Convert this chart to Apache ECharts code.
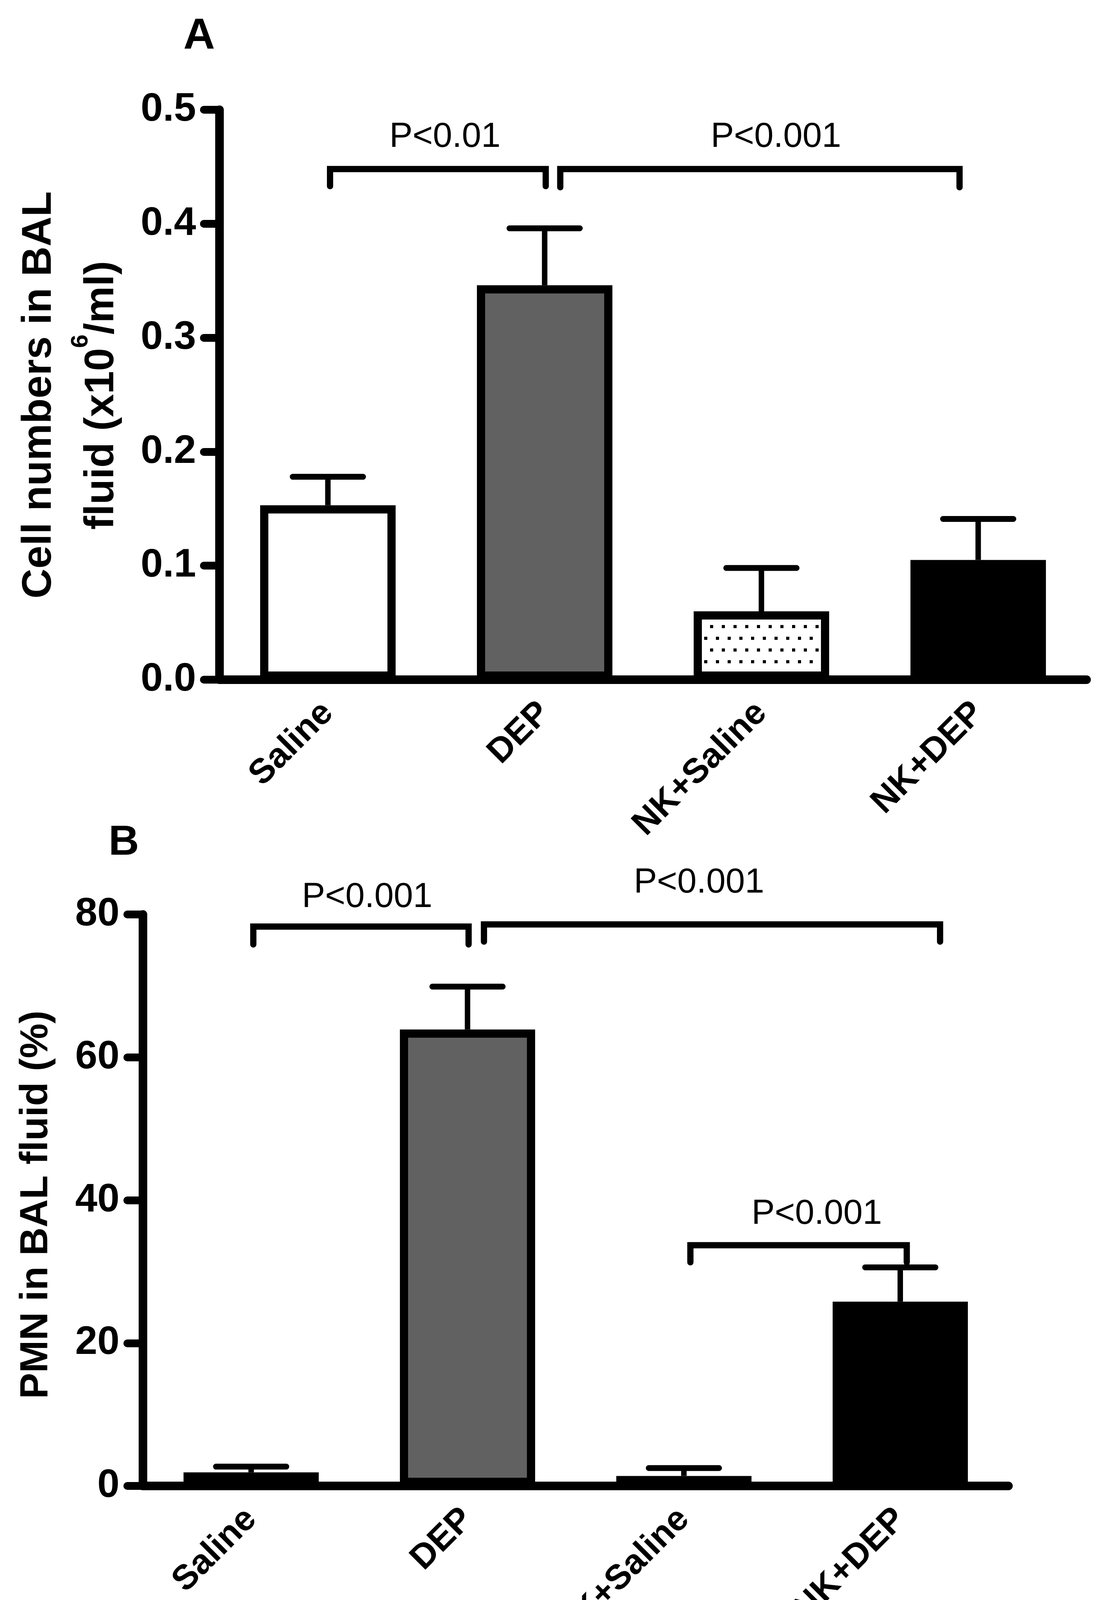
<!DOCTYPE html>
<html><head><meta charset="utf-8">
<script src="https://cdn.jsdelivr.net/npm/echarts@6/dist/echarts.min.js"></script>
<style>html,body{margin:0;padding:0;background:#fff}#c{width:2842px;height:4250px}</style>
</head><body><div id="c"></div>
<script>
// ---------- data ----------
const categories = ['Saline', 'DEP', 'NK+Saline', 'NK+DEP'];
const cellMean = [0.153, 0.346, 0.060, 0.105];
const cellSem  = [0.025, 0.050, 0.038, 0.036];
const pmnMean  = [1.9, 63.9, 1.4, 25.8];
const pmnSem   = [0.8, 6.0, 1.1, 4.8];
const cellAxisRange = [0, 0.5, 0.1];
const pmnAxisRange  = [0, 80, 20];
// brackets: [fromCategory, toCategory, barValue, tipValue]
const cellBrackets = [[0.01, 1.005, 0.448, 0.433], [1.072, 2.914, 0.448, 0.432]];
const cellBracketLabels = [['P<0.01', 0.54, 0.476], ['P<0.001', 2.067, 0.476]];
const pmnBrackets = [[0.01, 1.005, 78.3, 75.8], [1.076, 3.184, 78.6, 76.2], [2.03, 3.03, 33.7, 31.3]];
const pmnBracketLabels = [['P<0.001', 0.536, 82.4], ['P<0.001', 2.07, 84.4], ['P<0.001', 2.614, 38.05]];

// ---------- styles ----------
const SANS = '"Liberation Sans", Arial, Helvetica, sans-serif';
const tile = document.createElement('canvas');
tile.width = 30; tile.height = 60;
(function () {
  const g = tile.getContext('2d');
  g.fillStyle = '#fff'; g.fillRect(0, 0, 30, 60);
  g.fillStyle = '#000';
  g.fillRect(3, 10, 8, 8);
  g.fillRect(18, 40, 8, 8);
})();
const fills = ['#ffffff', '#616161', { image: tile, repeat: 'repeat' }, '#000000'];

function barSeries(idx, means) {
  return {
    type: 'bar', xAxisIndex: idx, yAxisIndex: idx, barWidth: '62.5%', z: 3, silent: true,
    data: means.map((v, i) => ({ value: v, itemStyle: { color: fills[i], borderColor: '#000', borderWidth: 21 } }))
  };
}
function errSeries(idx, means, sems) {
  return {
    type: 'custom', xAxisIndex: idx, yAxisIndex: idx, z: 2, silent: true,
    data: means.map((m, i) => [i, m, m + sems[i]]),
    renderItem(params, api) {
      const b = api.coord([api.value(0), api.value(1)]);
      const t = api.coord([api.value(0), api.value(2)]);
      const half = 90;
      return { type: 'group', children: [
        { type: 'line', shape: { x1: b[0], y1: b[1], x2: t[0], y2: t[1] }, style: { stroke: '#000', lineWidth: 14 } },
        { type: 'line', shape: { x1: t[0] - half, y1: t[1], x2: t[0] + half, y2: t[1] }, style: { stroke: '#000', lineWidth: 15, lineCap: 'round' } }
      ] };
    }
  };
}
function bracketSeries(idx, brackets, labels) {
  return {
    type: 'custom', xAxisIndex: idx, yAxisIndex: idx, z: 4, silent: true,
    data: brackets.map((b, i) => [0, 0, b[0], b[1], b[2], b[3], labels[i][1], labels[i][2]]),
    renderItem(params, api) {
      const band = api.size([1, 0])[0];
      const px = v => { const i = Math.floor(v); return api.coord([i, 0])[0] + (v - i) * band; };
      const x0 = px(api.value(2)), x1 = px(api.value(3));
      const y = api.coord([0, api.value(4)])[1];
      const t = api.coord([0, api.value(5)])[1];
      const lx = px(api.value(6)), ly = api.coord([0, api.value(7)])[1];
      return { type: 'group', children: [
        { type: 'polyline', shape: { points: [[x0, t], [x0, y], [x1, y], [x1, t]] },
          style: { stroke: '#000', lineWidth: 16, fill: null, lineCap: 'round', lineJoin: 'miter' } },
        { type: 'text', x: lx, y: ly,
          style: { text: labels[params.dataIndex][0], fontSize: 89, fontFamily: SANS, fill: '#000', align: 'center', verticalAlign: 'middle' } }
      ] };
    }
  };
}
function yAxis(idx, range, fmt) {
  return {
    type: 'value', gridIndex: idx, min: range[0], max: range[1], interval: range[2],
    axisLine: { show: true, lineStyle: { color: '#000', width: 22, cap: 'round' } },
    axisTick: { show: true, length: 40, lineStyle: { color: '#000', width: 20, cap: 'round' } },
    splitLine: { show: false },
    axisLabel: { margin: 60, fontSize: 102, fontWeight: 'bold', fontFamily: SANS, color: '#000', formatter: fmt }
  };
}
function xAxis(idx) {
  return {
    type: 'category', gridIndex: idx, data: categories,
    axisLine: { show: true, lineStyle: { color: '#000', width: 22, cap: 'round' } },
    axisTick: { show: false },
    axisLabel: { interval: 0, rotate: 45, margin: 72, fontSize: 89, fontWeight: 'bold', fontFamily: SANS, color: '#000' }
  };
}

const chart = echarts.init(document.getElementById('c'), null, { renderer: 'canvas' });
chart.setOption({
  animation: false,
  backgroundColor: '#fff',
  grid: [
    { left: 562, top: 281, width: 2220, height: 1459, containLabel: false, outerBoundsMode: 'none' },
    { left: 366, top: 2341, width: 2216, height: 1463, containLabel: false, outerBoundsMode: 'none' }
  ],
  xAxis: [xAxis(0), xAxis(1)],
  yAxis: [yAxis(0, cellAxisRange, v => v.toFixed(1)), yAxis(1, pmnAxisRange, v => String(v))],
  series: [
    errSeries(0, cellMean, cellSem), barSeries(0, cellMean), bracketSeries(0, cellBrackets, cellBracketLabels),
    errSeries(1, pmnMean, pmnSem), barSeries(1, pmnMean), bracketSeries(1, pmnBrackets, pmnBracketLabels)
  ],
  graphic: [
    { type: 'text', x: 510, y: 94, style: { text: 'A', fontSize: 112, fontWeight: 'bold', fontFamily: SANS, fill: '#000', align: 'center', verticalAlign: 'middle' } },
    { type: 'text', x: 317, y: 2158, style: { text: 'B', fontSize: 108, fontWeight: 'bold', fontFamily: SANS, fill: '#000', align: 'center', verticalAlign: 'middle' } },
    { type: 'text', x: 101, y: 1011, rotation: Math.PI / 2,
      style: { text: 'Cell numbers in BAL', fontSize: 106, fontWeight: 'bold', fontFamily: SANS, fill: '#000', align: 'center', verticalAlign: 'middle' } },
    { type: 'text', x: 245, y: 1012, rotation: Math.PI / 2,
      style: { text: '{n|fluid (x10}{s|6}{n|/ml)}', fill: '#000', align: 'center', verticalAlign: 'middle',
        rich: {
          n: { fontSize: 106, fontWeight: 'bold', fontFamily: SANS, fill: '#000', verticalAlign: 'bottom', lineHeight: 138 },
          s: { fontSize: 62, fontWeight: 'bold', fontFamily: SANS, fill: '#000', verticalAlign: 'top' }
        } } },
    { type: 'text', x: 93, y: 3084, rotation: Math.PI / 2,
      style: { text: 'PMN in BAL fluid (%)', fontSize: 100, fontWeight: 'bold', fontFamily: SANS, fill: '#000', align: 'center', verticalAlign: 'middle' } }
  ]
});
</script>
</body></html>
